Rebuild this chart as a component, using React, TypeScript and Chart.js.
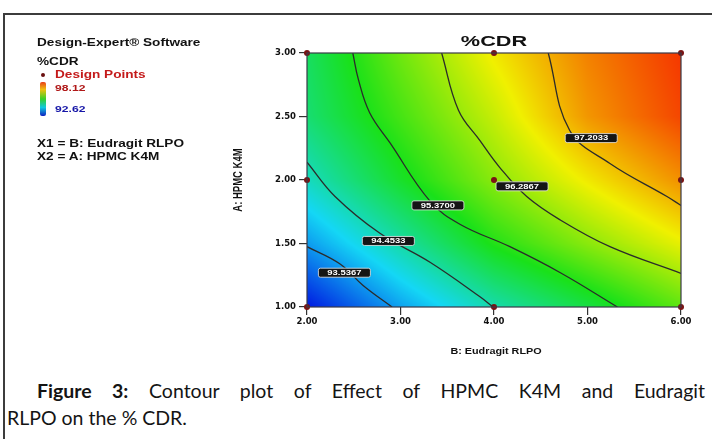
import React, { useEffect, useRef } from "react";
import { Chart, registerables } from "chart.js";

Chart.register(...registerables);

// ---- axis ticks ----
const xTickValues = [2, 3, 4, 5, 6]; // B: Eudragit RLPO
const yTickValues = [1, 1.5, 2, 2.5, 3]; // A: HPMC K4M

// ---- estimated %CDR response on a grid (rows from A=1.00 up to A=3.00) ----
const gridB = [2, 3, 4, 5, 6];
const gridA = [1, 1.5, 2, 2.5, 3];
const cdrAtA100 = [92.62, 93.61, 94.45, 95.1, 95.81];
const cdrAtA150 = [93.56, 94.49, 95.43, 96.09, 96.69];
const cdrAtA200 = [94.33, 95.26, 96.09, 96.8, 97.46];
const cdrAtA250 = [94.82, 95.65, 96.47, 97.41, 98.01];
const cdrAtA300 = [94.93, 95.92, 96.8, 97.57, 98.12];
const cdrMin = 92.62;
const cdrMax = 98.12;

// ---- contour lines [B, A] ----
const contour1 = [[2.0, 1.475], [2.35, 1.34], [2.6, 1.17], [2.91, 1.0]];
const contour2 = [[2.0, 2.14], [2.3, 1.87], [2.78, 1.58], [3.32, 1.35], [3.85, 1.08], [3.99, 1.0]];
const contour3 = [[2.49, 3.0], [2.55, 2.79], [2.67, 2.53], [2.89, 2.29], [3.32, 1.83], [3.64, 1.65], [4.17, 1.475], [4.71, 1.27], [5.32, 1.0]];
const contour4 = [[3.44, 3.0], [3.62, 2.55], [3.85, 2.31], [4.06, 2.1], [4.35, 1.87], [4.71, 1.685], [5.24, 1.475], [6.0, 1.265]];
const contour5 = [[4.58, 3.0], [4.81, 2.39], [5.24, 2.13], [5.85, 1.87], [6.0, 1.8]];

const contourLabels = ["93.5367", "94.4533", "95.3700", "96.2867", "97.2033"];
const contourLabelB = [2.4, 2.87, 3.4, 4.3, 5.04];
const contourLabelA = [1.27, 1.52, 1.8, 1.95, 2.33];

// ---- design points ----
const designB = [2, 4, 6, 2, 4, 6, 2, 4, 6];
const designA = [1, 1, 1, 2, 2, 2, 3, 3, 3];

const colorStops: [number, number[]][] = [
  [0, [0, 25, 225]],
  [0.25, [20, 215, 245]],
  [0.5, [25, 225, 25]],
  [0.75, [240, 240, 0]],
  [1, [245, 55, 0]],
];

function cmap(t: number) {
  t = Math.max(0, Math.min(1, t));
  for (let i = 1; i < colorStops.length; i++) {
    const [t1, c1] = colorStops[i];
    const [t0, c0] = colorStops[i - 1];
    if (t <= t1) {
      const f = (t - t0) / (t1 - t0);
      return [0, 1, 2].map((k) => c0[k] + (c1[k] - c0[k]) * f);
    }
  }
  return colorStops[colorStops.length - 1][1];
}

function sampleCdr(b: number, a: number) {
  const rows = [cdrAtA100, cdrAtA150, cdrAtA200, cdrAtA250, cdrAtA300];
  const locate = (arr: number[], v: number) => {
    let i = 0;
    while (i < arr.length - 2 && v > arr[i + 1]) i++;
    const f = Math.max(0, Math.min(1, (v - arr[i]) / (arr[i + 1] - arr[i])));
    return [i, f];
  };
  const [i, fx] = locate(gridB, b);
  const [j, fy] = locate(gridA, a);
  const v00 = rows[j][i], v10 = rows[j][i + 1];
  const v01 = rows[j + 1][i], v11 = rows[j + 1][i + 1];
  return (v00 * (1 - fx) + v10 * fx) * (1 - fy) + (v01 * (1 - fx) + v11 * fx) * fy;
}

const heatPlugin = {
  id: "heat",
  beforeDatasetsDraw(chart: any) {
    const { ctx, chartArea: a, scales } = chart;
    const w = Math.round(a.right - a.left);
    const h = Math.round(a.bottom - a.top);
    const off = document.createElement("canvas");
    off.width = w;
    off.height = h;
    const octx = off.getContext("2d")!;
    const img = octx.createImageData(w, h);
    for (let j = 0; j < h; j++) {
      const av = scales.y.getValueForPixel(a.top + j + 0.5);
      for (let i = 0; i < w; i++) {
        const bv = scales.x.getValueForPixel(a.left + i + 0.5);
        const v = sampleCdr(bv, av);
        const c = cmap((v - cdrMin) / (cdrMax - cdrMin));
        const p = (j * w + i) * 4;
        img.data[p] = c[0];
        img.data[p + 1] = c[1];
        img.data[p + 2] = c[2];
        img.data[p + 3] = 255;
      }
    }
    octx.putImageData(img, 0, 0);
    ctx.drawImage(off, a.left, a.top, w, h);
  },
};

function roundRect(ctx: CanvasRenderingContext2D, x: number, y: number, w: number, h: number, r: number) {
  ctx.beginPath();
  ctx.moveTo(x + r, y);
  ctx.lineTo(x + w - r, y);
  ctx.quadraticCurveTo(x + w, y, x + w, y + r);
  ctx.lineTo(x + w, y + h - r);
  ctx.quadraticCurveTo(x + w, y + h, x + w - r, y + h);
  ctx.lineTo(x + r, y + h);
  ctx.quadraticCurveTo(x, y + h, x, y + h - r);
  ctx.lineTo(x, y + r);
  ctx.quadraticCurveTo(x, y, x + r, y);
  ctx.closePath();
}

const overlayPlugin = {
  id: "overlay",
  afterDatasetsDraw(chart: any) {
    const { ctx, chartArea: a, scales } = chart;
    ctx.save();
    // frame
    ctx.strokeStyle = "#3a3a48";
    ctx.lineWidth = 1.2;
    ctx.strokeRect(a.left, a.top, a.right - a.left, a.bottom - a.top);
    // contour labels
    contourLabels.forEach((txt, k) => {
      const cx = scales.x.getPixelForValue(contourLabelB[k]);
      const cy = scales.y.getPixelForValue(contourLabelA[k]);
      const bw = 52, bh = 9;
      roundRect(ctx, cx - bw / 2, cy - bh / 2, bw, bh, 2);
      ctx.fillStyle = "#151515";
      ctx.fill();
      ctx.strokeStyle = "#e8e8e8";
      ctx.lineWidth = 0.8;
      ctx.stroke();
      ctx.save();
      ctx.translate(cx, cy + 0.5);
      ctx.scale(1.45, 1);
      ctx.fillStyle = "#ffffff";
      ctx.font = 'bold 6.5px "Liberation Sans"';
      ctx.textAlign = "center";
      ctx.textBaseline = "middle";
      ctx.fillText(txt, 0, 0);
      ctx.restore();
    });
    ctx.restore();
  },
  afterDraw(chart: any) {
    const { ctx, chartArea: a } = chart;
    const mid = (a.left + a.right) / 2;
    ctx.save();
    ctx.fillStyle = "#111";
    ctx.textAlign = "center";
    ctx.textBaseline = "middle";
    // title
    ctx.save();
    ctx.translate(mid, a.top - 11);
    ctx.scale(1.55, 1);
    ctx.font = 'bold 14px "Liberation Sans"';
    ctx.fillText("%CDR", 0, 0);
    ctx.restore();
    // x title
    ctx.save();
    ctx.translate(mid + 2, a.bottom + 45);
    ctx.scale(1.2, 1);
    ctx.font = 'bold 9px "Liberation Sans"';
    ctx.fillText("B: Eudragit RLPO", 0, 0);
    ctx.restore();
    // y title
    ctx.save();
    ctx.translate(a.left - 69, (a.top + a.bottom) / 2);
    ctx.scale(1.4, 1);
    ctx.rotate(-Math.PI / 2);
    ctx.font = 'bold 9.5px "Liberation Sans"';
    ctx.fillText("A: HPMC K4M", 0, 0);
    ctx.restore();
    ctx.restore();
  },
};

const pts = (arr: number[][]) => arr.map(([x, y]) => ({ x, y }));

const contourStyle = {
  showLine: true,
  borderColor: "#2b2b2b",
  borderWidth: 1.3,
  pointRadius: 0,
  tension: 0.4,
  fill: false,
};

export default function App() {
  const ref = useRef<HTMLCanvasElement>(null);

  useEffect(() => {
    if (!ref.current) return;
    const tickFont = { family: "DejaVu Sans", weight: "bold" as const, size: 8.5 };
    const chart = new Chart(ref.current, {
      type: "scatter",
      data: {
        datasets: [
          { data: pts(contour1), ...contourStyle },
          { data: pts(contour2), ...contourStyle },
          { data: pts(contour3), ...contourStyle },
          { data: pts(contour4), ...contourStyle },
          { data: pts(contour5), ...contourStyle },
          {
            data: designB.map((b, i) => ({ x: b, y: designA[i] })),
            pointRadius: 3,
            pointBackgroundColor: "#7a1414",
            pointBorderWidth: 0,
            showLine: false,
            clip: false,
          } as any,
        ],
      },
      options: {
        responsive: false,
        animation: false,
        events: [],
        layout: { padding: { left: 250, right: 31, top: 53, bottom: 20 } },
        plugins: {
          legend: { display: false },
          tooltip: { enabled: false },
          title: { display: false },
        },
        scales: {
          x: {
            type: "linear",
            min: 2,
            max: 6,
            afterBuildTicks: (s: any) => {
              s.ticks = xTickValues.map((v) => ({ value: v }));
            },
            afterFit: (s: any) => {
              s.height = 43;
            },
            ticks: {
              callback: (v: any) => Number(v).toFixed(2),
              font: tickFont,
              color: "#111",
              padding: 2,
              maxRotation: 0,
            },
            grid: { drawOnChartArea: false, drawTicks: true, tickLength: 8, color: "#333", lineWidth: 1.2 },
            border: { display: false },
          },
          y: {
            type: "linear",
            min: 1,
            max: 3,
            afterBuildTicks: (s: any) => {
              s.ticks = yTickValues.map((v) => ({ value: v }));
            },
            afterFit: (s: any) => {
              s.width = 57;
            },
            ticks: {
              callback: (v: any) => Number(v).toFixed(2),
              font: tickFont,
              color: "#111",
              padding: 3,
            },
            grid: { drawOnChartArea: false, drawTicks: true, tickLength: 8, color: "#333", lineWidth: 1.2 },
            border: { display: false },
          },
        },
      } as any,
      plugins: [heatPlugin, overlayPlugin],
    });
    return () => chart.destroy();
  }, []);

  const legendText: React.CSSProperties = {
    position: "absolute",
    left: 37,
    fontFamily: '"Liberation Sans", Arial, sans-serif',
    fontWeight: "bold",
    fontSize: 10,
    lineHeight: "11px",
    whiteSpace: "nowrap",
    transform: "scaleX(1.36)",
    transformOrigin: "left center",
    color: "#111",
  };

  return (
    <div style={{ position: "fixed", left: 0, top: 0, width: 712, height: 439, background: "#fff", overflow: "hidden" }}>
      <div
        style={{
          position: "absolute",
          left: 3,
          top: 13,
          width: 800,
          height: 600,
          border: "2px solid #3c3c3c",
          boxSizing: "border-box",
        }}
      />
      <canvas ref={ref} width={712} height={370} style={{ position: "absolute", left: 0, top: 0 }} />
      <div style={{ ...legendText, top: 37 }}>Design-Expert® Software</div>
      <div style={{ ...legendText, top: 56 }}>%CDR</div>
      <div
        style={{
          position: "absolute",
          left: 41,
          top: 73,
          width: 4,
          height: 4,
          borderRadius: 2,
          background: "#6a1010",
        }}
      />
      <div style={{ ...legendText, left: 55, top: 69, color: "#c41a1a" }}>Design Points</div>
      <div
        style={{
          position: "absolute",
          left: 40,
          top: 82,
          width: 6,
          height: 34,
          borderRadius: 2,
          background: "linear-gradient(to bottom, #e8401a, #f0c010 22%, #38d028 50%, #10c8e0 75%, #1020c0)",
        }}
      />
      <div style={{ ...legendText, left: 55, top: 83, fontSize: 9, transform: "scaleX(1.35)", color: "#b01818" }}>98.12</div>
      <div style={{ ...legendText, left: 55, top: 104, fontSize: 9, transform: "scaleX(1.35)", color: "#1818a8" }}>92.62</div>
      <div style={{ ...legendText, top: 138 }}>X1 = B: Eudragit RLPO</div>
      <div style={{ ...legendText, top: 151 }}>X2 = A: HPMC K4M</div>

      <div
        style={{
          position: "absolute",
          left: 7,
          top: 377,
          width: 698,
          fontFamily: "Lato, 'Open Sans', sans-serif",
          fontSize: 19.5,
          lineHeight: "27px",
          color: "#141414",
        }}
      >
        <div style={{ textAlign: "justify", textAlignLast: "justify", textIndent: 30 } as any}>
          <b>Figure 3:</b> Contour plot of Effect of HPMC K4M and Eudragit
        </div>
        <div>RLPO on the % CDR.</div>
      </div>
    </div>
  );
}
